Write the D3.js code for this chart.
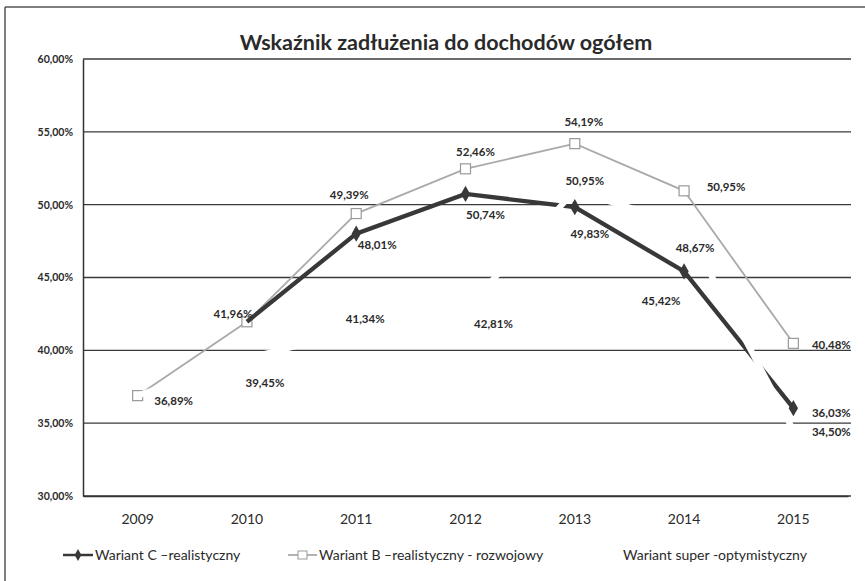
<!DOCTYPE html>
<html>
<head>
<meta charset="utf-8">
<script src="https://cdn.jsdelivr.net/npm/d3@7"></script>
<style>

html, body {
  width: 100%;
  height: 100%;
  overflow: hidden;
  margin: 0;
  padding: 0;
  background: #fff;
}

text {
  font-family: Lato, "Open Sans", sans-serif;
  fill: #2a2a2a;
}

.grid line {
  stroke: #3a3a3a;
  stroke-width: 1.3;
}

.lbl {
  font-size: 11.5px;
  font-weight: bold;
}

</style>
</head>
<body>
<script>

// chart data
var years = ['2009', '2010', '2011', '2012', '2013', '2014', '2015'];

var wariantC = [null, 41.96, 48.01, 50.74, 49.83, 45.42, 36.03];
var wariantB = [36.89, 41.96, 49.39, 52.46, 54.19, 50.95, 40.48];
var wariantSuper = [36.89, 39.45, 41.34, 42.81, 50.95, 48.67, 34.50];

var yTicks = [30, 35, 40, 45, 50, 55, 60];

var title = 'Wskaźnik zadłużenia do dochodów ogółem';
var names = ['Wariant C –realistyczny', 'Wariant B –realistyczny - rozwojowy', 'Wariant super  -optymistyczny'];

// label offsets (px) from each point; null = no label
var offC = [null, null, [21, 11], [20, 21], [15, 27], [-23, 30], [38, 5]];
var offB = [[36, 5], [-14, -8], [-7, -19], [10, -17], [9, -22], [42, -4], [38, 2]];
var offS = [null, [18, 25], [9, -12], [28, 15], [10, -10], [11, 24], [38, 2]];

var w = 865,
    h = 581,
    margin = {left: 83, right: 17, top: 59, bottom: 85};

var svg = d3.select('body').append('svg')
  .attr('width', w)
  .attr('height', h);

// scan frame (top and left edges only)
svg.append('line').attr('x1', 5).attr('x2', w).attr('y1', 7).attr('y2', 7)
  .attr('stroke', '#555').attr('stroke-width', 1.5);
svg.append('line').attr('x1', 5).attr('x2', 5).attr('y1', 7).attr('y2', h)
  .attr('stroke', '#555').attr('stroke-width', 1.5);

var x = d3.scaleBand()
  .domain(years)
  .range([margin.left, w - margin.right]);

var y = d3.scaleLinear()
  .domain([30, 60])
  .range([h - margin.bottom, margin.top]);

var cx = function(d, i) { return x(years[i]) + x.bandwidth() / 2; };

svg.append('text')
  .attr('x', 446)
  .attr('y', 50)
  .attr('text-anchor', 'middle')
  .style('font-size', '21.5px')
  .style('font-weight', 'bold')
  .text(title);

// gridlines
svg.append('g').attr('class', 'grid')
  .selectAll('line').data(yTicks).enter().append('line')
    .attr('x1', margin.left)
    .attr('x2', w - margin.right + 3)
    .attr('y1', function(d) { return y(d); })
    .attr('y2', function(d) { return y(d); });

// y axis
var yAxis = d3.axisLeft(y)
  .tickValues(yTicks)
  .tickSize(0)
  .tickPadding(10)
  .tickFormat(function(d) { return d3.format('.2f')(d).replace('.', ',') + '%'; });

var ya = svg.append('g')
  .attr('transform', 'translate(' + margin.left + ',0)')
  .call(yAxis);
ya.select('.domain').attr('stroke', '#333').attr('stroke-width', 1.5);
ya.selectAll('text').style('font-size', '10.5px').style('font-weight', 'bold')
  .style('font-family', 'Lato, sans-serif').attr('fill', '#2a2a2a');

// x axis
var xa = svg.append('g')
  .attr('transform', 'translate(0,' + y(30) + ')')
  .call(d3.axisBottom(x).tickSize(0).tickPadding(18));
xa.select('.domain').attr('stroke', '#333').attr('stroke-width', 1.3);
xa.selectAll('text').style('font-size', '14px')
  .style('font-family', 'Lato, sans-serif').attr('fill', '#2a2a2a');

var line = d3.line()
  .defined(function(d) { return d != null; })
  .x(cx)
  .y(function(d) { return y(d); });

// Wariant B
svg.append('path').datum(wariantB)
  .attr('d', line)
  .attr('fill', 'none')
  .attr('stroke', '#aaa')
  .attr('stroke-width', 1.8);

svg.selectAll('rect.b').data(wariantB).enter().append('rect')
  .attr('class', 'b')
  .attr('x', function(d, i) { return cx(d, i) - 5; })
  .attr('y', function(d) { return y(d) - 5; })
  .attr('width', 10).attr('height', 10)
  .attr('fill', '#fff')
  .attr('stroke', '#999')
  .attr('stroke-width', 1.2);

// Wariant C
svg.append('path').datum(wariantC)
  .attr('d', line)
  .attr('fill', 'none')
  .attr('stroke', '#383838')
  .attr('stroke-width', 4.3);

var diamond = d3.symbol().type(d3.symbolDiamond).size(75);
svg.selectAll('path.c').data(wariantC.filter(function(d, i) { return offC[i]; })
    .map(function(d) { return wariantC.indexOf(d); }))
  .enter().append('path')
  .attr('class', 'c')
  .attr('d', diamond)
  .attr('transform', function(i) { return 'translate(' + cx(null, i) + ',' + y(wariantC[i]) + ')'; })
  .attr('fill', '#383838');

// super-optymistyczny: drawn white, so it only cuts the other lines
svg.append('path').datum(wariantSuper)
  .attr('d', line)
  .attr('fill', 'none')
  .attr('stroke', '#fff')
  .attr('stroke-width', 6);

// data labels
function labels(vals, offs) {
  vals.forEach(function(d, i) {
    if (!offs[i] || d == null) return;
    svg.append('text')
      .attr('class', 'lbl')
      .attr('x', cx(d, i) + offs[i][0])
      .attr('y', y(d) + offs[i][1])
      .attr('dy', '0.35em')
      .attr('text-anchor', 'middle')
      .text(d3.format('.2f')(d).replace('.', ',') + '%');
  });
}
labels(wariantB, offB);
labels(wariantC, offC);
labels(wariantSuper, offS);

// legend
var ly = 555;
var lg = svg.append('g');
lg.append('line').attr('x1', 63).attr('x2', 93).attr('y1', ly).attr('y2', ly)
  .attr('stroke', '#383838').attr('stroke-width', 2.5);
lg.append('path').attr('d', d3.symbol().type(d3.symbolDiamond).size(40))
  .attr('transform', 'translate(78,' + ly + ')').attr('fill', '#383838');
lg.append('text').attr('x', 95).attr('y', ly).attr('dy', '0.35em')
  .style('font-size', '14px').text(names[0]);

lg.append('line').attr('x1', 288).attr('x2', 317).attr('y1', ly).attr('y2', ly)
  .attr('stroke', '#999').attr('stroke-width', 1.5);
lg.append('rect').attr('x', 298).attr('y', ly - 4).attr('width', 9).attr('height', 8)
  .attr('fill', '#fff').attr('stroke', '#999');
lg.append('text').attr('x', 319).attr('y', ly).attr('dy', '0.35em')
  .style('font-size', '14px').text(names[1]);

lg.append('text').attr('x', 623).attr('y', ly).attr('dy', '0.35em')
  .style('font-size', '14px').text(names[2]);

</script>
</body>
</html>
